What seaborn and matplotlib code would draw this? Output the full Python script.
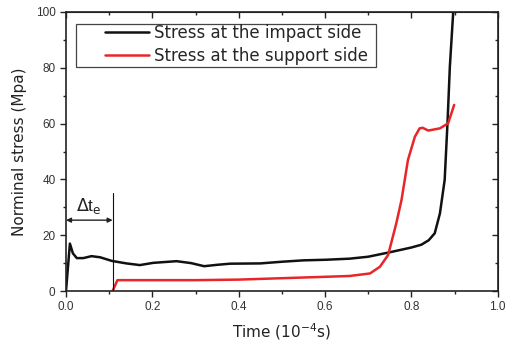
import matplotlib
matplotlib.use("Agg")
import matplotlib.pyplot as plt
import seaborn as sns
import pandas as pd
from matplotlib.ticker import MultipleLocator, FormatStrFormatter
from matplotlib.patches import Rectangle

# Data (time in 1e-4 s, stress in MPa)
impact_t = [0.0, 0.009, 0.016, 0.025, 0.04, 0.059, 0.079, 0.106, 0.14, 0.171, 0.202,
            0.256, 0.29, 0.32, 0.35, 0.38, 0.45, 0.5, 0.55, 0.6, 0.657, 0.7, 0.75,
            0.8, 0.823, 0.84, 0.854, 0.866, 0.877, 0.8835, 0.889, 0.8966, 0.902]
impact_s = [0.0, 17.0, 13.5, 11.8, 11.8, 12.5, 12.1, 10.8, 9.9, 9.3, 10.1,
            10.7, 10.0, 8.9, 9.4, 9.8, 9.9, 10.5, 11.0, 11.2, 11.6, 12.3, 13.9,
            15.6, 16.6, 18.2, 20.7, 27.8, 39.8, 60.1, 80.4, 99.5, 106.0]

support_t = [0.108, 0.119, 0.2, 0.3, 0.4, 0.5, 0.6, 0.657, 0.704, 0.727, 0.746,
             0.765, 0.777, 0.792, 0.808, 0.819, 0.826, 0.839, 0.866, 0.885, 0.899]
support_s = [0.0, 3.9, 3.9, 3.9, 4.1, 4.6, 5.1, 5.4, 6.3, 8.7, 12.9,
             24.3, 32.6, 47.0, 55.3, 58.3, 58.5, 57.5, 58.3, 60.1, 66.7]

series_names = ["Stress at the impact side", "Stress at the support side"]

df = pd.concat([
    pd.DataFrame({"t": impact_t, "s": impact_s, "series": series_names[0]}),
    pd.DataFrame({"t": support_t, "s": support_s, "series": series_names[1]}),
], ignore_index=True)

sns.set_style("ticks")
plt.rcParams["font.family"] = ["Liberation Sans", "DejaVu Sans"]

fig = plt.figure(figsize=(5.05, 3.42), dpi=100)
ax = fig.add_axes([0.1307, 0.149, 0.855, 0.816])

sns.lineplot(data=df, x="t", y="s", hue="series", sort=False,
             palette={series_names[0]: "#111111", series_names[1]: "#e8262a"},
             linewidth=1.8, ax=ax, estimator=None)

ax.set_xlim(0, 1.0)
ax.set_ylim(0, 100)
ax.xaxis.set_major_locator(MultipleLocator(0.2))
ax.xaxis.set_minor_locator(MultipleLocator(0.1))
ax.yaxis.set_major_locator(MultipleLocator(20))
ax.yaxis.set_minor_locator(MultipleLocator(10))
ax.xaxis.set_major_formatter(FormatStrFormatter("%.1f"))
ax.yaxis.set_major_formatter(FormatStrFormatter("%d"))

for sp in ax.spines.values():
    sp.set_visible(True)
    sp.set_linewidth(1.2)
    sp.set_color("#222222")

ax.tick_params(which="both", direction="out", top=False, right=False, colors="#222222",
               labelsize=8.5, labelcolor="#333333", width=1.0)
ax.tick_params(which="major", length=4)
ax.tick_params(which="minor", length=2.5)
# inner ticks on top and right
axt = ax.secondary_xaxis("top")
axt.xaxis.set_major_locator(MultipleLocator(0.2))
axt.xaxis.set_minor_locator(MultipleLocator(0.1))
axt.tick_params(which="both", direction="in", labeltop=False, colors="#222222", width=1.0)
axt.tick_params(which="major", length=4)
axt.tick_params(which="minor", length=2.5)
axr = ax.secondary_yaxis("right")
axr.yaxis.set_major_locator(MultipleLocator(20))
axr.yaxis.set_minor_locator(MultipleLocator(10))
axr.tick_params(which="both", direction="in", labelright=False, colors="#222222", width=1.0)
axr.tick_params(which="major", length=4)
axr.tick_params(which="minor", length=2.5)

ax.set_xlabel("Time (10$^{-4}$s)", fontsize=11, color="#222222", labelpad=6,
              family="DejaVu Sans")
ax.set_ylabel("Norminal stress (Mpa)", fontsize=11, color="#222222", labelpad=6,
              family="DejaVu Sans")

leg = ax.legend(title=None, loc="upper left", bbox_to_anchor=(0.090, 0.958),
                prop={"family": "DejaVu Sans", "size": 12}, frameon=False,
                handlelength=2.65, handletextpad=0.3, borderpad=0,
                labelspacing=0.3, borderaxespad=0)
# legend box (drawn separately, wider on the left as in the reference)
ax.add_patch(Rectangle((0.023, 0.804), 0.695, 0.152, transform=ax.transAxes,
                       fill=False, edgecolor="#444444", linewidth=0.9, zorder=5))

# Delta t_e annotation
ax.plot([0.108, 0.108], [0, 35], color="#111111", linewidth=0.8)
ax.annotate("", xy=(0.0, 25.4), xytext=(0.108, 25.4),
            arrowprops=dict(arrowstyle="<|-|>", color="#222222", lw=1.0,
                            mutation_scale=7, shrinkA=0, shrinkB=0))
ax.text(0.052, 30.5, r"$\Delta$t$_{\rm e}$", fontsize=12.5, ha="center", va="center",
        color="#222222")

fig.savefig("out.png", dpi=100)
